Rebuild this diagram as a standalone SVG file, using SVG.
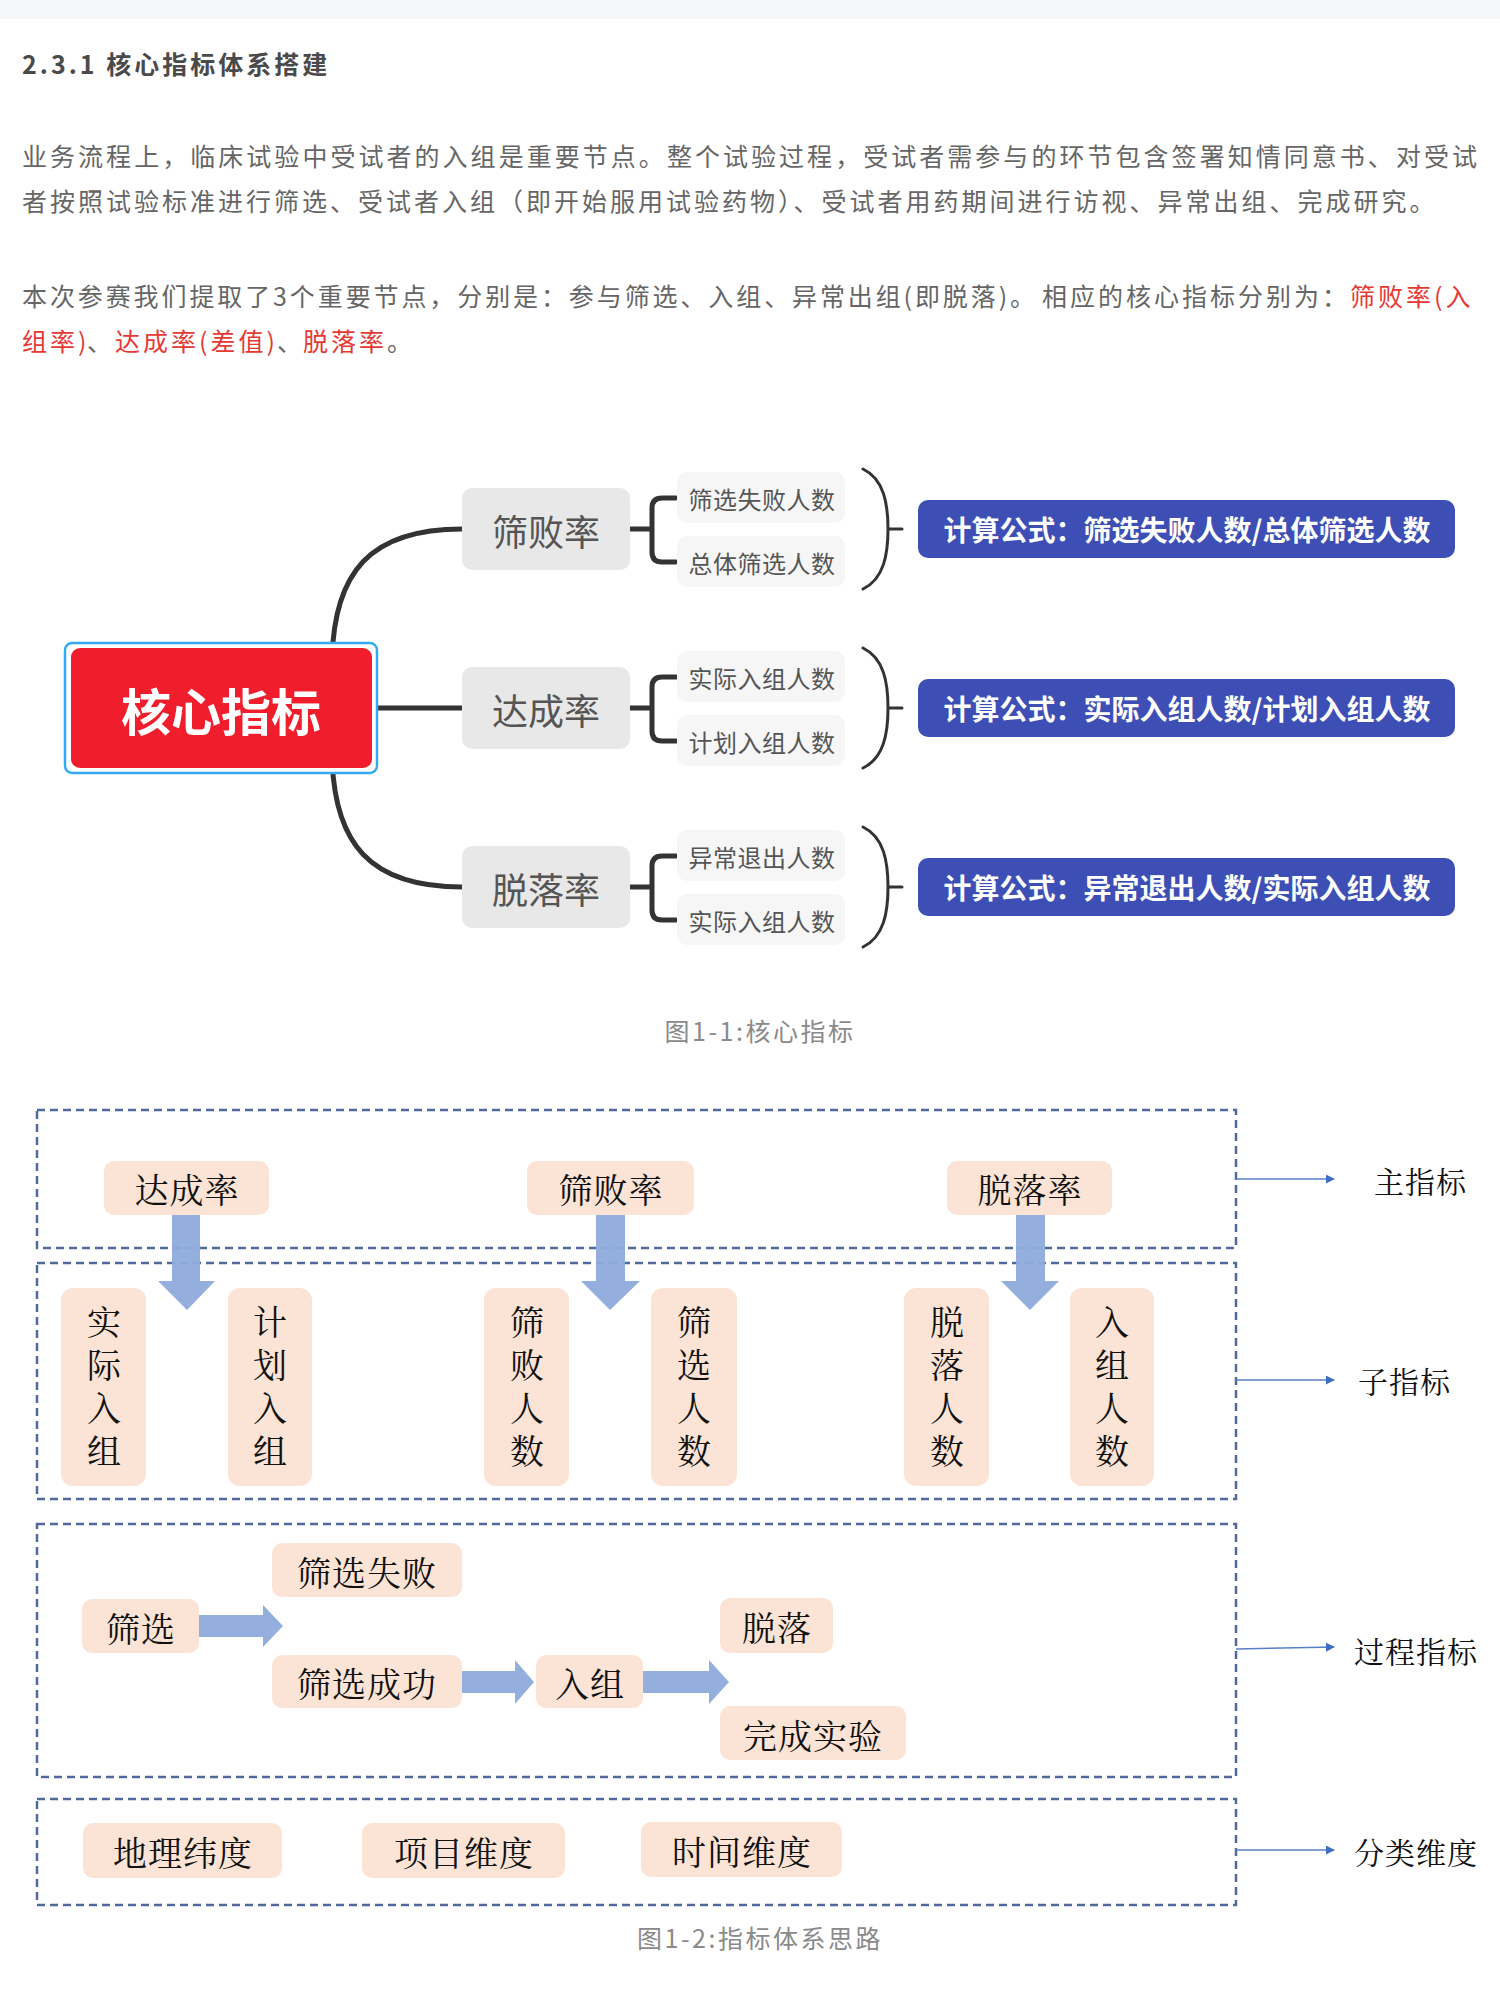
<svg xmlns="http://www.w3.org/2000/svg" width="1500" height="2000" viewBox="0 0 1500 2000">
<style>
text { dominant-baseline: central; }
.sans { font-family: "Noto Sans CJK SC", "Liberation Sans", sans-serif; }
.ser { font-family: "Noto Serif CJK SC", "Noto Sans CJK SC", serif; }
.h { font-size: 25px; font-weight: 700; letter-spacing: 3px; fill: #4a4a4a; }
.p { font-size: 25px; letter-spacing: 3px; fill: #666666; }
.red { fill: #e53935; }
.cap { font-size: 25px; letter-spacing: 2.5px; fill: #8a8a8a; text-anchor: middle; }
.mmbox { fill: #e8e8e8; }
.mmtxt { font-size: 36px; fill: #555555; text-anchor: middle; }
.subbox { fill: #f6f6f6; }
.subtxt { font-size: 24px; letter-spacing: 0.5px; fill: #555555; text-anchor: middle; }
.fbox { fill: #3d4fb5; }
.ftxt { font-size: 28px; font-weight: 700; fill: #ffffff; text-anchor: middle; }
.thick { fill: none; stroke: #333333; stroke-width: 5; stroke-linecap: round; }
.thin { fill: none; stroke: #333333; stroke-width: 3; stroke-linecap: round; }
.dash { fill: none; stroke: #52699e; stroke-width: 2.5; stroke-dasharray: 8 5; }
.pe { fill: #fbe4d5; }
.bt { font-size: 34px; fill: #111111; text-anchor: middle; letter-spacing: 1px; }
.vt { font-size: 34px; fill: #111111; text-anchor: middle; writing-mode: vertical-rl; letter-spacing: 9px; }
.lbl { font-size: 30px; fill: #111111; letter-spacing: 1px; }
.blk { fill: #8eaadb; opacity: 0.95; }
.ptr { stroke: #5a7fc8; stroke-width: 1.6; fill: none; }
</style>
<defs>
<marker id="tri" viewBox="0 0 10 10" refX="9" refY="5" markerWidth="9" markerHeight="9" markerUnits="userSpaceOnUse" orient="auto">
<path d="M0,0 L10,5 L0,10 z" fill="#3f6cc4"/>
</marker>
</defs>

<rect x="0" y="0" width="1500" height="19" fill="#f4f6f9"/>

<text class="sans h" x="22" y="63">2.3.1 核心指标体系搭建</text>

<text class="sans p" x="22" y="155" textLength="1458" lengthAdjust="spacing">业务流程上，临床试验中受试者的入组是重要节点。整个试验过程，受试者需参与的环节包含签署知情同意书、对受试</text>
<text class="sans p" x="22" y="200">者按照试验标准进行筛选、受试者入组（即开始服用试验药物）、受试者用药期间进行访视、异常出组、完成研究。</text>
<text class="sans p" x="22" y="295" textLength="1016" lengthAdjust="spacing">本次参赛我们提取了3个重要节点，分别是：参与筛选、入组、异常出组(即脱落)。</text>
<text class="sans p" x="1042" y="295">相应的核心指标分别为：</text>
<text class="sans p red" x="1350" y="295">筛败率(入</text>
<text class="sans p" y="340"><tspan class="red" x="22">组率)</tspan><tspan x="87">、</tspan><tspan class="red" x="115">达成率(差值)</tspan><tspan x="277">、</tspan><tspan class="red" x="303">脱落率</tspan><tspan>。</tspan></text>

<!-- Mind map connectors -->
<g id="mindmap-connectors">
<path class="thick" d="M332,660 C334,572 370,529 462,529"/>
<path class="thick" d="M372,708 H462"/>
<path class="thick" d="M332,756 C334,844 370,887 462,887"/>
<path class="thick" d="M630,529 H652 M676,498 H662 Q652,498 652,508 V552 Q652,562 662,562 H676"/>
<path class="thick" d="M630,708 H652 M676,677 H662 Q652,677 652,687 V731 Q652,741 662,741 H676"/>
<path class="thick" d="M630,887 H652 M676,856 H662 Q652,856 652,866 V910 Q652,920 662,920 H676"/>
<path class="thin" d="M863,469 C884,479 888,504 888,529 C888,554 884,579 863,589 M888,529 H902"/>
<path class="thin" d="M863,648 C884,658 888,683 888,708 C888,733 884,758 863,768 M888,708 H902"/>
<path class="thin" d="M863,827 C884,837 888,862 888,887 C888,912 884,937 863,947 M888,887 H902"/>
</g>

<g id="core">
<rect x="65" y="643" width="312" height="130" rx="7" fill="#ffffff" stroke="#35aaf0" stroke-width="2.5"/>
<rect x="71" y="648" width="301" height="120" rx="9" fill="#f01e2d"/>
<text class="sans" x="221" y="709" font-size="50" font-weight="700" fill="#ffffff" text-anchor="middle">核心指标</text>
</g>

<g id="shaibailv">
<rect class="mmbox" x="462" y="488" width="168" height="82" rx="10"/>
<text class="sans mmtxt" x="546" y="530">筛败率</text>
</g>
<g id="dachenglv">
<rect class="mmbox" x="462" y="667" width="168" height="82" rx="10"/>
<text class="sans mmtxt" x="546" y="709">达成率</text>
</g>
<g id="tuoluolv">
<rect class="mmbox" x="462" y="846" width="168" height="82" rx="10"/>
<text class="sans mmtxt" x="546" y="888">脱落率</text>
</g>

<g id="sub1a"><rect class="subbox" x="677" y="472" width="168" height="51" rx="10"/><text class="sans subtxt" x="762" y="498">筛选失败人数</text></g>
<g id="sub1b"><rect class="subbox" x="677" y="536" width="168" height="51" rx="10"/><text class="sans subtxt" x="762" y="562">总体筛选人数</text></g>
<g id="sub2a"><rect class="subbox" x="677" y="651" width="168" height="51" rx="10"/><text class="sans subtxt" x="762" y="677">实际入组人数</text></g>
<g id="sub2b"><rect class="subbox" x="677" y="715" width="168" height="51" rx="10"/><text class="sans subtxt" x="762" y="741">计划入组人数</text></g>
<g id="sub3a"><rect class="subbox" x="677" y="830" width="168" height="51" rx="10"/><text class="sans subtxt" x="762" y="856">异常退出人数</text></g>
<g id="sub3b"><rect class="subbox" x="677" y="894" width="168" height="51" rx="10"/><text class="sans subtxt" x="762" y="920">实际入组人数</text></g>

<g id="formula1"><rect class="fbox" x="918" y="500" width="537" height="58" rx="10"/><text class="sans ftxt" x="1187" y="529">计算公式：筛选失败人数/总体筛选人数</text></g>
<g id="formula2"><rect class="fbox" x="918" y="679" width="537" height="58" rx="10"/><text class="sans ftxt" x="1187" y="708">计算公式：实际入组人数/计划入组人数</text></g>
<g id="formula3"><rect class="fbox" x="918" y="858" width="537" height="58" rx="10"/><text class="sans ftxt" x="1187" y="887">计算公式：异常退出人数/实际入组人数</text></g>

<text class="sans cap" x="760" y="1030">图1-1:核心指标</text>

<!-- Second figure: dashed layers -->
<g id="layers">
<rect class="dash" x="37" y="1110" width="1199" height="138"/>
<rect class="dash" x="37" y="1263" width="1199" height="236"/>
<rect class="dash" x="37" y="1524" width="1199" height="253"/>
<rect class="dash" x="37" y="1799" width="1199" height="106"/>
</g>

<g id="main-dachenglv"><rect class="pe" x="104" y="1161" width="165" height="54" rx="10"/><text class="ser bt" x="187" y="1188">达成率</text></g>
<g id="main-shaibailv"><rect class="pe" x="527" y="1161" width="167" height="54" rx="10"/><text class="ser bt" x="611" y="1188">筛败率</text></g>
<g id="main-tuoluolv"><rect class="pe" x="947" y="1161" width="165" height="54" rx="10"/><text class="ser bt" x="1030" y="1188">脱落率</text></g>

<g id="sub-sjrz"><rect class="pe" x="61" y="1288" width="85" height="198" rx="12"/><text class="ser vt" x="104" y="1391">实际入组</text></g>
<g id="sub-jhrz"><rect class="pe" x="228" y="1288" width="84" height="198" rx="12"/><text class="ser vt" x="270" y="1391">计划入组</text></g>
<g id="sub-sbrs"><rect class="pe" x="484" y="1288" width="85" height="198" rx="12"/><text class="ser vt" x="527" y="1391">筛败人数</text></g>
<g id="sub-sxrs"><rect class="pe" x="651" y="1288" width="86" height="198" rx="12"/><text class="ser vt" x="694" y="1391">筛选人数</text></g>
<g id="sub-tlrs"><rect class="pe" x="904" y="1288" width="85" height="198" rx="12"/><text class="ser vt" x="947" y="1391">脱落人数</text></g>
<g id="sub-rzrs"><rect class="pe" x="1070" y="1288" width="84" height="198" rx="12"/><text class="ser vt" x="1112" y="1391">入组人数</text></g>

<g id="p-shaixuan"><rect class="pe" x="82" y="1599" width="117" height="54" rx="10"/><text class="ser bt" x="141" y="1627">筛选</text></g>
<g id="p-shibai"><rect class="pe" x="272" y="1543" width="190" height="54" rx="10"/><text class="ser bt" x="367" y="1571">筛选失败</text></g>
<g id="p-chenggong"><rect class="pe" x="272" y="1655" width="190" height="53" rx="10"/><text class="ser bt" x="367" y="1682">筛选成功</text></g>
<g id="p-ruzu"><rect class="pe" x="536" y="1655" width="107" height="53" rx="10"/><text class="ser bt" x="590" y="1682">入组</text></g>
<g id="p-tuoluo"><rect class="pe" x="720" y="1598" width="113" height="55" rx="10"/><text class="ser bt" x="777" y="1626">脱落</text></g>
<g id="p-wancheng"><rect class="pe" x="720" y="1706" width="186" height="54" rx="10"/><text class="ser bt" x="813" y="1734">完成实验</text></g>

<g id="d-dili"><rect class="pe" x="83" y="1823" width="199" height="55" rx="10"/><text class="ser bt" x="183" y="1851">地理纬度</text></g>
<g id="d-xiangmu"><rect class="pe" x="362" y="1823" width="203" height="55" rx="10"/><text class="ser bt" x="464" y="1851">项目维度</text></g>
<g id="d-shijian"><rect class="pe" x="641" y="1822" width="201" height="55" rx="10"/><text class="ser bt" x="742" y="1850">时间维度</text></g>

<g id="connectors">
<path class="blk" d="M172,1215 H200 V1281 H215 L187,1310 L158,1281 H172 Z"/>
<path class="blk" d="M596,1215 H625 V1281 H640 L610,1310 L581,1281 H596 Z"/>
<path class="blk" d="M1016,1215 H1045 V1281 H1059 L1030,1310 L1001,1281 H1016 Z"/>
<path class="blk" d="M199,1615 H263 V1605 L283,1626 L263,1647 V1637 H199 Z"/>
<path class="blk" d="M462,1671 H515 V1660 L534,1682 L515,1704 V1693 H462 Z"/>
<path class="blk" d="M643,1671 H709 V1660 L729,1682 L709,1704 V1693 H643 Z"/>
<path class="ptr" d="M1236,1179 H1334" marker-end="url(#tri)"/>
<path class="ptr" d="M1236,1380 H1334" marker-end="url(#tri)"/>
<path class="ptr" d="M1236,1649 L1334,1647" marker-end="url(#tri)"/>
<path class="ptr" d="M1236,1850 H1334" marker-end="url(#tri)"/>
</g>

<g id="lbl-main"><text class="ser lbl" x="1374" y="1180">主指标</text></g>
<g id="lbl-sub"><text class="ser lbl" x="1358" y="1380">子指标</text></g>
<g id="lbl-proc"><text class="ser lbl" x="1354" y="1650">过程指标</text></g>
<g id="lbl-dim"><text class="ser lbl" x="1354" y="1851">分类维度</text></g>

<text class="sans cap" x="760" y="1937">图1-2:指标体系思路</text>
</svg>
